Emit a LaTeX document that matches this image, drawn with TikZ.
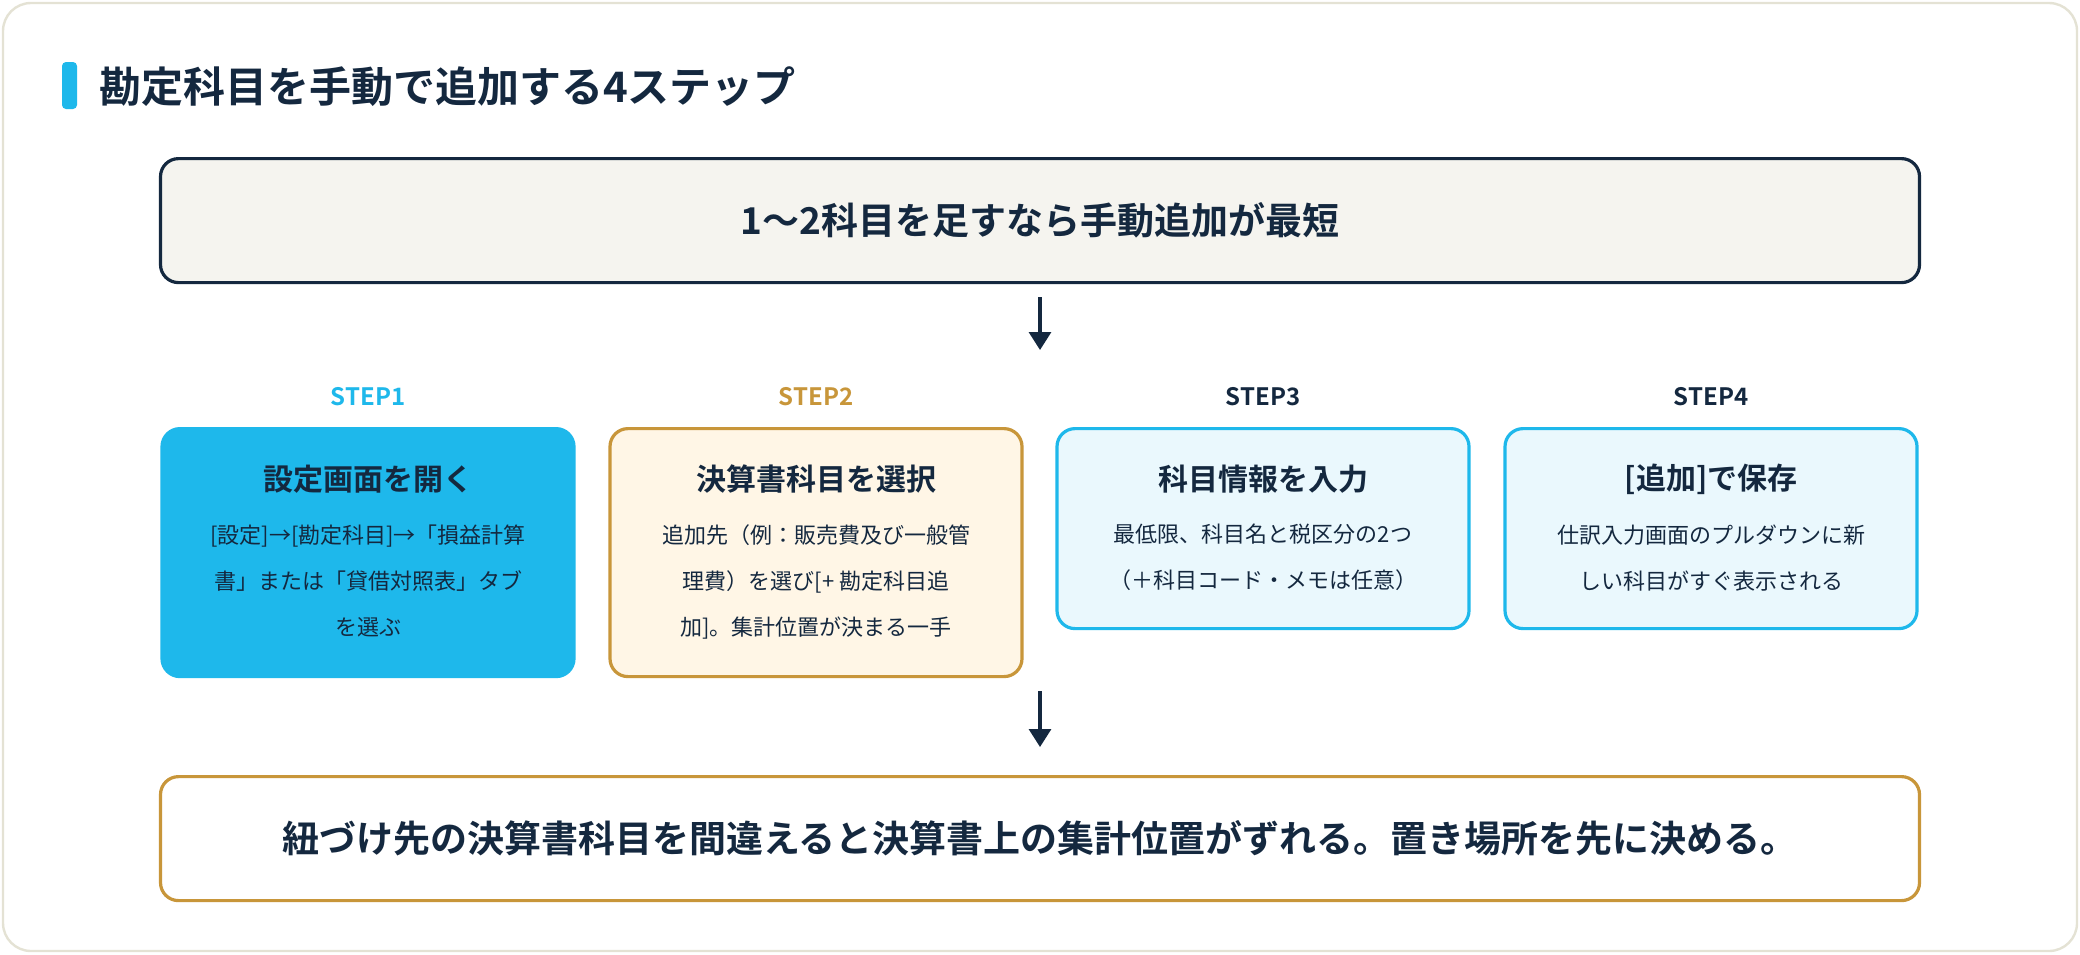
\documentclass[tikz,border=0pt]{standalone}
\usepackage{fontspec}
\setmainfont{Noto Sans CJK JP}[BoldFont={Noto Sans CJK JP Bold}]
\usetikzlibrary{arrows.meta}
\definecolor{navy}{HTML}{14283F}
\definecolor{skyc}{HTML}{1EB8EB}
\definecolor{gold}{HTML}{C8963A}
\definecolor{cream}{HTML}{F5F4EF}
\definecolor{paleg}{HTML}{FFF6E6}
\definecolor{pales}{HTML}{EAF8FD}
\definecolor{frame}{HTML}{E4E2D4}

\begin{document}
\begin{tikzpicture}[x=0.5pt, y=-0.5pt,
    banner/.style={draw, line width=1.6pt, rounded corners=9pt, minimum width=879.5pt,
        minimum height=62pt, anchor=north, font=\bfseries\fontsize{18.5}{22}\selectfont, text=navy},
    stepbox/.style={draw, line width=1.6pt, rounded corners=9pt, minimum width=206pt, anchor=north},
    steplabel/.style={font=\bfseries\fontsize{12}{14}\selectfont},
    steptitle/.style={font=\bfseries\fontsize{15}{18}\selectfont, text=navy},
    stepbody/.style={anchor=north, inner sep=0pt, align=center, text=navy,
        font=\fontsize{11}{23}\selectfont},
    flow/.style={draw=navy, line width=1.6pt, -{Triangle[length=9pt, width=11pt]}}]
  \useasboundingbox (0,0) rectangle (2080,954);
  \draw[frame, fill=white, line width=1.2pt, rounded corners=14pt] (3,3) rectangle (2077,951);

  % heading
  \fill[skyc, rounded corners=2pt] (62,62) rectangle (77,109);
  \node[anchor=west, font=\bfseries\fontsize{21}{24}\selectfont, text=navy] (heading) at (92,87) {勘定科目を手動で追加する4ステップ};

  % top and bottom banners
  \node[banner, draw=navy, fill=cream] (intro) at (1040,157) {1〜2科目を足すなら手動追加が最短};
  \node[banner, draw=gold, fill=white] (note) at (1040,775) {紐づけ先の決算書科目を間違えると決算書上の集計位置がずれる。置き場所を先に決める。};

  % step labels
  \node[steplabel, text=skyc] (lab1) at (368,397) {STEP1};
  \node[steplabel, text=gold] (lab2) at (816,397) {STEP2};
  \node[steplabel, text=navy] (lab3) at (1263,397) {STEP3};
  \node[steplabel, text=navy] (lab4) at (1711,397) {STEP4};

  % step boxes
  \node[stepbox, draw=skyc, fill=skyc, minimum height=124pt] (box1) at (368,427) {};
  \node[stepbox, draw=gold, fill=paleg, minimum height=124pt] (box2) at (816,427) {};
  \node[stepbox, draw=skyc, fill=pales, minimum height=100pt] (box3) at (1263,427) {};
  \node[stepbox, draw=skyc, fill=pales, minimum height=100pt] (box4) at (1711,427) {};

  \node[steptitle] (title1) at (368,479) {設定画面を開く};
  \node[steptitle] (title2) at (816,479) {決算書科目を選択};
  \node[steptitle] (title3) at (1263,479) {科目情報を入力};
  \node[steptitle] (title4) at (1711,479) {[追加]で保存};

  \node[stepbody] (body1) at (368,524) {[設定]→[勘定科目]→「損益計算\\書」または「貸借対照表」タブ\\を選ぶ};
  \node[stepbody] (body2) at (816,524) {追加先（例：販売費及び一般管\\理費）を選び[+ 勘定科目追\\加]。集計位置が決まる一手};
  \node[stepbody] (body3) at (1263,524) {最低限、科目名と税区分の2つ\\（＋科目コード・メモは任意）};
  \node[stepbody] (body4) at (1711,524) {仕訳入力画面のプルダウンに新\\しい科目がすぐ表示される};

  % connectors
  \coordinate (mid1) at (1040,350);
  \coordinate (mid2) at (1040,691);
  \draw[flow] (intro.south) ++(0,13) -- (mid1);
  \draw[flow] (mid2) -- ([yshift=14pt]note.north);
\end{tikzpicture}
\end{document}
